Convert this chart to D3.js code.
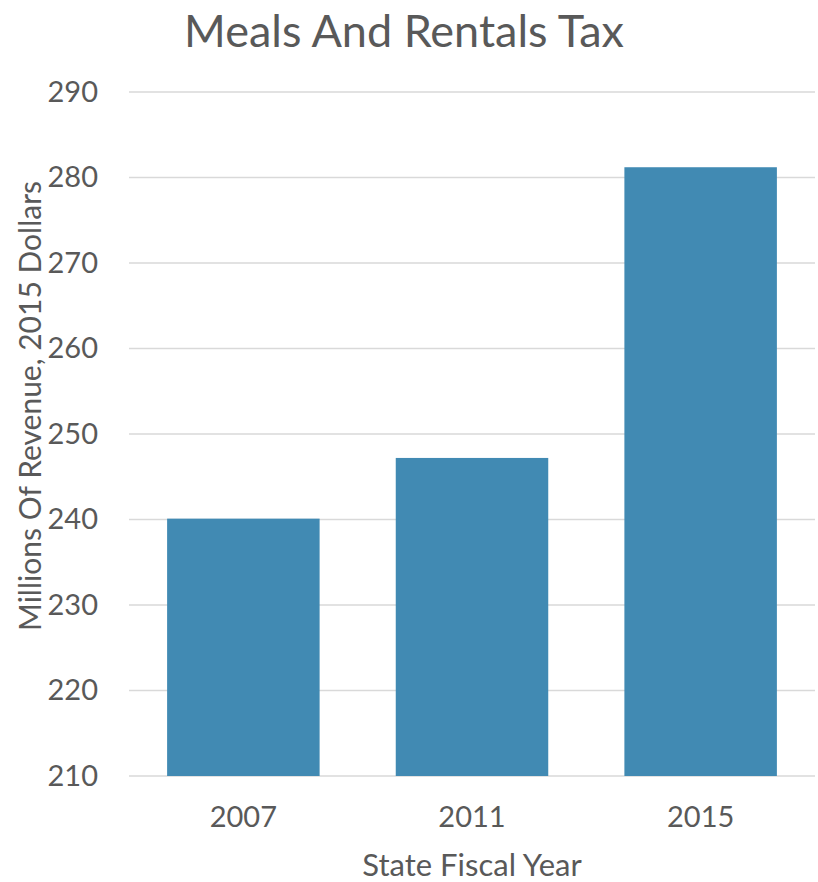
<!DOCTYPE html>
<html>
<head>
<meta charset="utf-8">
<script src="https://cdn.jsdelivr.net/npm/d3@7"></script>
<style>
  body { margin: 0; background: #fff; }
  text { font-family: Lato, "Open Sans", sans-serif; fill: #595959; }
</style>
</head>
<body>
<svg id="chart" width="818" height="882"></svg>
<script>
var years = ["2007", "2011", "2015"];
var revenue = [240.1, 247.2, 281.2];
var yTicks = [210, 220, 230, 240, 250, 260, 270, 280, 290];

var svg = d3.select("#chart"),
    margin = {top: 92, right: 3, bottom: 106, left: 129},
    width = +svg.attr("width") - margin.left - margin.right,
    height = +svg.attr("height") - margin.top - margin.bottom;

var x = d3.scaleBand()
    .domain(years)
    .range([0, width])
    .paddingInner(0.333)
    .paddingOuter(0.1667);

var y = d3.scaleLinear()
    .domain([210, 290])
    .range([height, 0]);

var g = svg.append("g").attr("transform", "translate(" + margin.left + "," + margin.top + ")");

// gridlines
g.selectAll(".grid")
  .data(yTicks)
  .enter().append("line")
    .attr("x1", 0)
    .attr("x2", width)
    .attr("y1", function(d) { return y(d); })
    .attr("y2", function(d) { return y(d); })
    .attr("stroke", "#d9d9d9")
    .attr("stroke-width", 1.5);

g.selectAll(".bar")
  .data(years)
  .enter().append("rect")
    .attr("x", function(d) { return x(d); })
    .attr("width", x.bandwidth())
    .attr("y", function(d, i) { return y(revenue[i]); })
    .attr("height", function(d, i) { return height - y(revenue[i]); })
    .attr("fill", "#418ab3");

// y axis labels
var yAxis = g.append("g")
    .call(d3.axisLeft(y).tickValues(yTicks).tickSize(0).tickPadding(31));
yAxis.select(".domain").remove();
yAxis.selectAll("text").style("font-size", "29px").attr("fill", "#595959").style("font-family", "Lato");

var xAxis = g.append("g")
    .attr("transform", "translate(0," + height + ")")
    .call(d3.axisBottom(x).tickSize(0).tickPadding(30));
xAxis.select(".domain").remove();
xAxis.selectAll("text").style("font-size", "29px").attr("fill", "#595959").style("font-family", "Lato");

svg.append("text")
    .attr("x", 404)
    .attr("y", 47)
    .attr("text-anchor", "middle")
    .style("font-size", "45px")
    .text("Meals And Rentals Tax");

svg.append("text")
    .attr("x", 472)
    .attr("y", 876)
    .attr("text-anchor", "middle")
    .style("font-size", "31px")
    .text("State Fiscal Year");

svg.append("text")
    .attr("transform", "translate(41,406) rotate(-90)")
    .attr("text-anchor", "middle")
    .style("font-size", "30px")
    .text("Millions Of Revenue, 2015 Dollars");
</script>
</body>
</html>
